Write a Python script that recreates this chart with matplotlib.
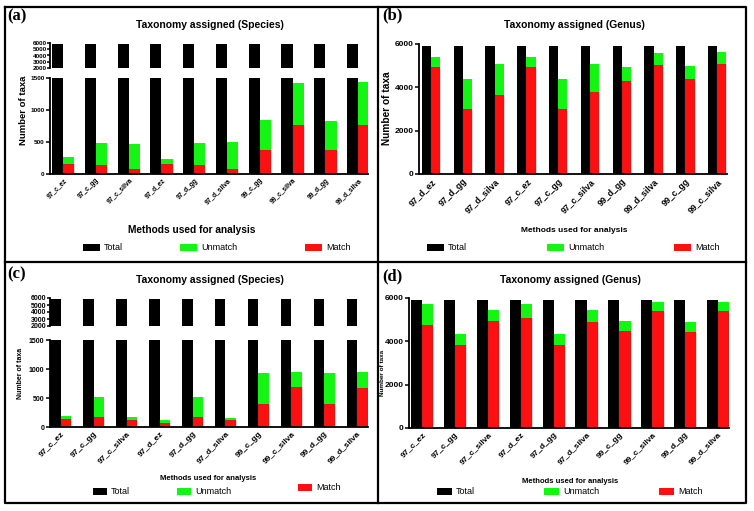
import numpy as np
import matplotlib
matplotlib.use("Agg")
import matplotlib.pyplot as plt
from matplotlib.lines import Line2D
from matplotlib.patches import Patch

plt.rcParams["font.family"] = "Liberation Sans"
plt.rcParams["font.weight"] = "bold"

# data
labels_ac = ["97_c_ez", "97_c_gg", "97_c_silva", "97_d_ez", "97_d_gg",
             "97_d_silva", "99_c_gg", "99_c_silva", "99_d_gg", "99_d_silva"]
labels_b = ["97_d_ez", "97_d_gg", "97_d_silva", "97_c_ez", "97_c_gg",
            "97_c_silva", "99_d_gg", "99_d_silva", "99_c_gg", "99_c_silva"]
labels_d = labels_ac

total = [5900] * 10

a_match = [156, 140, 78, 156, 140, 78, 368, 763, 368, 763]
a_unmatch = [103, 337, 389, 78, 337, 420, 478, 664, 467, 674]

b_match = [4940, 3020, 3650, 4940, 3020, 3800, 4310, 5030, 4370, 5060]
b_unmatch = [460, 1380, 1430, 460, 1380, 1280, 640, 570, 630, 590]

c_match = [133, 179, 121, 75, 179, 121, 398, 698, 398, 664]
c_unmatch = [52, 346, 46, 46, 346, 35, 525, 242, 525, 288]

d_match = [4770, 3850, 4920, 5060, 3850, 4890, 4480, 5400, 4450, 5400]
d_unmatch = [940, 490, 530, 650, 490, 560, 440, 415, 460, 415]

BLACK, GREEN, RED = "#000000", "#14f514", "#ff1010"

W, H = 754, 511
fig = plt.figure(figsize=(W / 100, H / 100), dpi=100)


def add_ax(x0, yt, x1, yb):
    return fig.add_axes([x0 / W, 1 - yb / H, (x1 - x0) / W, (yb - yt) / H])


def style(ax, bottom=True, fs=5.5):
    ax.spines["top"].set_visible(False)
    ax.spines["right"].set_visible(False)
    ax.spines["left"].set_linewidth(1.3)
    ax.spines["bottom"].set_linewidth(1.3)
    if not bottom:
        ax.spines["bottom"].set_visible(False)
        ax.set_xticks([])
    ax.tick_params(axis="y", length=3, width=1.1, labelsize=fs, pad=1)
    ax.tick_params(axis="x", length=0, width=1.1, pad=2)


def draw_bars(ax, match, unmatch, w):
    x = np.arange(len(match))
    ax.bar(x - w / 2, total, w, color=BLACK)
    ax.bar(x + w / 2, match, w, color=RED, edgecolor="#444444", linewidth=0.3)
    ax.bar(x + w / 2, unmatch, w, bottom=match, color=GREEN, linewidth=0)


def xlabels(ax, labels, fs):
    ax.set_xticks(np.arange(len(labels)))
    ax.set_xticklabels(labels, rotation=45, ha="right", rotation_mode="anchor",
                       fontsize=fs, fontweight="bold")


def legend(items, y, fs=6.5, hl=1.9):
    for (lab, col, x) in items:
        fig.legend(handles=[Patch(facecolor=col, label=lab)], loc="center left",
                   bbox_to_anchor=(x / W, 1 - y / H), frameon=False,
                   handlelength=hl, handleheight=0.8, handletextpad=0.4,
                   borderpad=0, borderaxespad=0, prop={"weight": "normal", "size": fs})


def broken_panel(match, unmatch, labels, box, up, xlim, w, tick_fs, ytick_fs):
    x0, x1 = box[0], box[1]
    lo = add_ax(x0, box[2], x1, box[3])
    hi = add_ax(x0, up[0], x1, up[1])
    for ax in (lo, hi):
        draw_bars(ax, match, unmatch, w)
        ax.set_xlim(*xlim)
    lo.set_ylim(0, 1500)
    lo.set_yticks([0, 500, 1000, 1500])
    hi.set_ylim(2000, 6000)
    hi.set_yticks([2000, 3000, 4000, 5000, 6000])
    style(lo, fs=ytick_fs)
    style(hi, bottom=False, fs=ytick_fs)
    hi.tick_params(axis="y", length=2, pad=0.5)
    xlabels(lo, labels, tick_fs)
    return lo, hi


def genus_panel(match, unmatch, labels, box, xlim, w, tick_fs):
    ax = add_ax(*box)
    draw_bars(ax, match, unmatch, w)
    ax.set_xlim(*xlim)
    ax.set_ylim(0, 6000)
    ax.set_yticks([0, 2000, 4000, 6000])
    style(ax, fs=6)
    xlabels(ax, labels, tick_fs)
    return ax


# panel (a)
broken_panel(a_match, a_unmatch, labels_ac, (50, 368, 78, 174), (43, 68),
             (-0.4, 9.3), 0.34, 4.8, 4.6)
fig.text(210 / W, 1 - 25 / H, "Taxonomy assigned (Species)", ha="center", va="center",
         fontsize=7.5, fontweight="bold")
fig.text(24 / W, 1 - 110 / H, "Number of taxa", rotation=90, ha="center", va="center",
         fontsize=6.8, fontweight="bold")
fig.text(192 / W, 1 - 230 / H, "Methods used for analysis", ha="center", va="center",
         fontsize=7.3, fontweight="bold")
legend([("Total", BLACK, 83), ("Unmatch", GREEN, 180), ("Match", RED, 305)], 248)

# panel (b)
genus_panel(b_match, b_unmatch, labels_b, (419, 44, 727, 174), (-0.38, 9.31), 0.29, 6.3)
fig.text(574 / W, 1 - 25 / H, "Taxonomy assigned (Genus)", ha="center", va="center",
         fontsize=7.5, fontweight="bold")
fig.text(387 / W, 1 - 108 / H, "Number of taxa", rotation=90, ha="center", va="center",
         fontsize=7.3, fontweight="bold")
fig.text(574 / W, 1 - 230 / H, "Methods used for analysis", ha="center", va="center",
         fontsize=6, fontweight="bold")
legend([("Total", BLACK, 427), ("Unmatch", GREEN, 547), ("Match", RED, 674)], 248)

# panel (c)
broken_panel(c_match, c_unmatch, labels_ac, (50, 368, 340, 427), (298, 326),
             (-0.33, 9.33), 0.32, 6, 5)
fig.text(210 / W, 1 - 280 / H, "Taxonomy assigned (Species)", ha="center", va="center",
         fontsize=7.5, fontweight="bold")
fig.text(21 / W, 1 - 373 / H, "Number of taxa", rotation=90, ha="center", va="center",
         fontsize=5, fontweight="bold")
fig.text(208 / W, 1 - 478 / H, "Methods used for analysis", ha="center", va="center",
         fontsize=5.5, fontweight="bold")
legend([("Total", BLACK, 93), ("Unmatch", GREEN, 177)], 492, hl=1.6)
legend([("Match", RED, 298)], 488, hl=1.6)

# panel (d)
genus_panel(d_match, d_unmatch, labels_d, (409, 298, 729, 428), (-0.4, 9.33), 0.34, 6)
fig.text(570 / W, 1 - 280 / H, "Taxonomy assigned (Genus)", ha="center", va="center",
         fontsize=7.5, fontweight="bold")
fig.text(383 / W, 1 - 373 / H, "Number of taxa", rotation=90, ha="center", va="center",
         fontsize=4.6, fontweight="bold")
fig.text(570 / W, 1 - 481 / H, "Methods used for analysis", ha="center", va="center",
         fontsize=5.5, fontweight="bold")
legend([("Total", BLACK, 437), ("Unmatch", GREEN, 544), ("Match", RED, 659)], 492, hl=1.7)

# panel letters
for lab, x, y in [("(a)", 17, 16), ("(b)", 392, 15), ("(c)", 17, 274), ("(d)", 392, 276)]:
    fig.text(x / W, 1 - y / H, lab, ha="center", va="center", fontsize=12,
             fontweight="bold", family="Liberation Serif")


# frames
def fline(xs, ys, lw=1.6):
    fig.add_artist(Line2D([v / W for v in xs], [1 - v / H for v in ys],
                          color="black", linewidth=lw))


fline([5, 746, 746, 5, 5], [7, 7, 503, 503, 7])
fline([378, 378], [7, 503])
fline([5, 746], [262, 262])

plt.savefig("out.png", dpi=100)
plt.close(fig)
